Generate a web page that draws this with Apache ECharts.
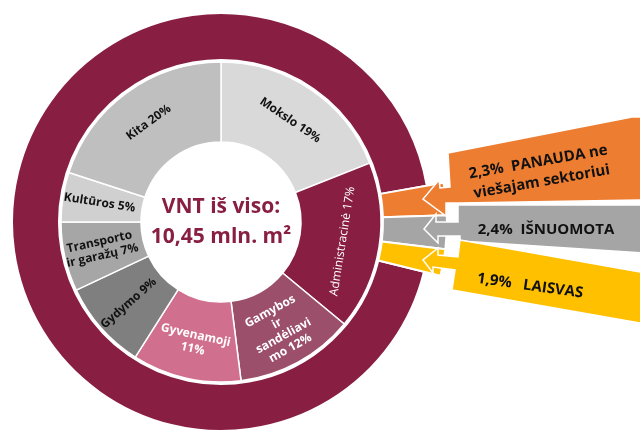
<!DOCTYPE html>
<html>
<head>
<meta charset="utf-8">
<script src="https://cdn.jsdelivr.net/npm/echarts@6/dist/echarts.min.js"></script>
<style>
  html, body { margin: 0; padding: 0; background: #fff; }
  #chart { width: 640px; height: 432px; }
</style>
</head>
<body>
<div id="chart"></div>
<script>
// inner ring: space by use
const categories = ['Mokslo', 'Administracinė', 'Gamybos\nir\nsandėliavi\nmo', 'Gyvenamoji', 'Gydymo', 'Transporto\nir garažų', 'Kultūros', 'Kita'];
const shares = [19, 17, 12, 11, 9, 7, 5, 20];
const sliceColors = ['#d9d9d9', '#891e43', '#9b4f6a', '#d1708e', '#7f7f7f', '#a6a6a6', '#d0d0d0', '#bfbfbf'];
const labelColors = ['#111', '#fff', '#fff', '#fff', '#111', '#111', '#111', '#111'];
const labelRotate = ['tangential', 'tangential', 'tangential', 'tangential', 'radial', 'radial', 'radial', 'tangential'];

// outer ring: state of the space
const usageNames = ['PANAUDA ne viešajam sektoriui', 'IŠNUOMOTA', 'LAISVAS', 'Naudojama'];
const usageShares = [2.3, 2.4, 1.9, 93.4];
const usageColors = ['#ed7d31', '#a5a5a5', '#ffc000', '#891e43'];

const totalArea = '10,45';
const font = '"Open Sans"';
const center = [221, 222];

function pct(v) {
    return String(v).replace('.', ',') + '%';
}

let chart = echarts.init(document.getElementById('chart'));

let innerData = categories.map((name, i) => ({
    name: name,
    value: shares[i],
    itemStyle: { color: sliceColors[i] },
    label: {
        rotate: labelRotate[i],
        color: labelColors[i],
        fontWeight: i === 1 ? 'normal' : 'bold'
    }
}));

// maroon ring, small slices hidden
let ringData = usageNames.map((name, i) => ({
    name: name,
    value: usageShares[i],
    itemStyle: i < 3 ? { color: 'rgba(0,0,0,0)', borderWidth: 0 } : { color: usageColors[i] }
}));

// small slices pulled out towards the arrows
let pulledData = usageNames.map((name, i) => ({
    name: name,
    value: usageShares[i],
    itemStyle: i < 3 ? { color: usageColors[i] } : { color: 'rgba(0,0,0,0)', borderWidth: 0 }
}));

function arrow(points, color) {
    return {
        type: 'polygon',
        z: 10,
        shape: { points: points },
        style: { fill: color, stroke: '#fff', lineWidth: 1.5 }
    };
}

function note(text, x, y, deg) {
    return {
        type: 'text',
        z: 11,
        x: x,
        y: y,
        rotation: deg * Math.PI / 180,
        style: {
            text: text,
            fill: '#111',
            font: 'bold 15px ' + font,
            align: 'center',
            verticalAlign: 'middle',
            lineHeight: 20
        }
    };
}

let option = {
    backgroundColor: '#fff',
    animation: false,
    series: [
        {
            type: 'pie',
            center: center,
            radius: [80, 160],
            startAngle: 90,
            clockwise: true,
            silent: true,
            itemStyle: { borderColor: '#fff', borderWidth: 1.5 },
            label: {
                position: 'inside',
                fontFamily: font,
                fontSize: 12,
                lineHeight: 14,
                formatter: p => p.name + (p.name === 'Gyvenamoji' ? '\n' : ' ') + p.value + '%'
            },
            labelLine: { show: false },
            data: innerData
        },
        {
            type: 'pie',
            center: center,
            radius: [162, 209],
            startAngle: 10,
            clockwise: true,
            silent: true,
            itemStyle: { borderColor: '#fff', borderWidth: 2 },
            label: { show: false },
            labelLine: { show: false },
            data: ringData
        },
        {
            type: 'pie',
            center: center,
            radius: [162, 226],
            startAngle: 10,
            clockwise: true,
            silent: true,
            itemStyle: { borderColor: '#fff', borderWidth: 2 },
            label: { show: false },
            labelLine: { show: false },
            data: pulledData
        }
    ],
    graphic: [
        {
            type: 'text',
            x: center[0],
            y: center[1],
            z: 11,
            style: {
                text: 'VNT iš viso:\n' + totalArea + ' mln. m²',
                fill: '#891e43',
                font: 'bold 21px ' + font,
                align: 'center',
                verticalAlign: 'middle',
                lineHeight: 30
            }
        },
        arrow([[448, 153], [632, 117], [645, 117], [645, 200], [460, 203], [446, 203], [446, 216],
               [423, 199], [439, 180], [440, 188], [450, 187]], usageColors[0]),
        arrow([[458, 205], [645, 205], [645, 253], [460, 241], [460, 236], [438, 236], [438, 243],
               [424, 229], [436, 214], [436, 222], [458, 222]], usageColors[1]),
        arrow([[460, 240], [645, 273], [645, 324], [452, 290], [455, 270], [433, 267], [433, 273],
               [423, 260], [438, 248], [438, 255], [458, 257]], usageColors[2]),
        note(pct(usageShares[0]) + '  PANAUDA ne\nviešajam sektoriui', 540, 172, 10),
        note(pct(usageShares[1]) + '  IŠNUOMOTA', 546, 230, 0),
        note(pct(usageShares[2]) + '   LAISVAS', 530, 286, -8)
    ]
};

chart.setOption(option);
</script>
</body>
</html>
